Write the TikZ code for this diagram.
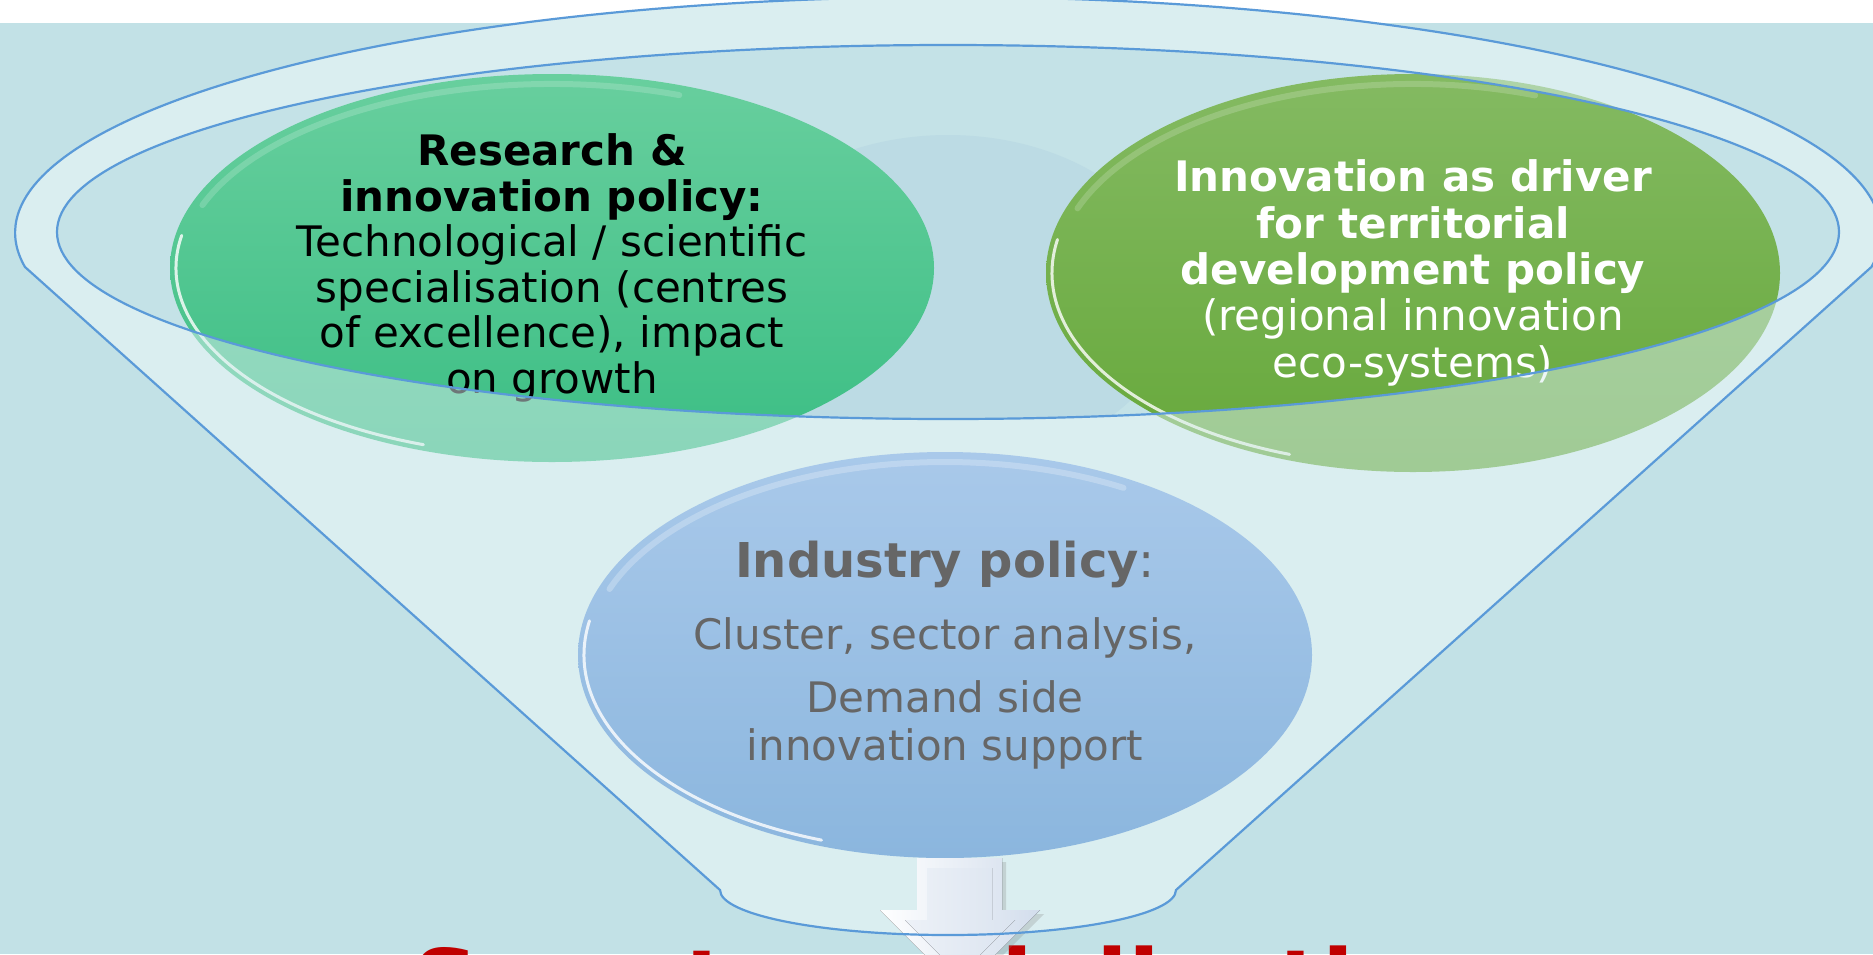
\documentclass[tikz,border=0pt]{standalone}
\usepackage{fontspec}
\setmainfont{DejaVu Sans}
\usetikzlibrary{shapes.geometric,calc}

\definecolor{bgblue}{HTML}{C2E1E6}
\definecolor{funnelfill}{HTML}{DAEEF0}
\definecolor{mouthfill}{HTML}{C4E2E7}
\definecolor{throatfill}{HTML}{BCDBE4}
\definecolor{rimline}{HTML}{5A9AD8}
\definecolor{greentop}{HTML}{68CF9E}
\definecolor{greenbot}{HTML}{3BBE84}
\definecolor{olivetop}{HTML}{84BA62}
\definecolor{olivebot}{HTML}{66A83A}
\definecolor{bluetop}{HTML}{A9C9EA}
\definecolor{bluebot}{HTML}{8BB6DE}
\definecolor{textgray}{HTML}{666666}
\definecolor{titlered}{HTML}{C00000}
\definecolor{arrowgray}{HTML}{D2DDEC}

\begin{document}
\begin{tikzpicture}[x=1pt, y=-1pt,
    bubble/.style={ellipse, inner sep=0pt, align=center,
      font=\fontsize{42}{45.6}\selectfont},
    rim/.style={rimline, line width=2.2pt},
    gloss/.style={white, line width=3pt, opacity=0.8, line cap=round},
    headline/.style={inner sep=0pt, text=titlered,
      font=\bfseries\fontsize{93}{100}\selectfont}]
  \useasboundingbox (0,0) rectangle (1873,954);
  \clip (0,0) rectangle (1873,954);
  % Drawing background and funnel
  \fill[bgblue] (0,23) rectangle (1873,954);
  \fill[funnelfill] (25,267) arc[start angle=171.7, end angle=368.3, x radius=933, y radius=236]
    -- (1176,890) arc[start angle=0, end angle=180, x radius=228, y radius=45] -- cycle;
  \fill[mouthfill] (948,232) ellipse [x radius=891, y radius=187];
  \begin{scope}
    \clip (948,232) ellipse [x radius=891, y radius=187];
    \fill[throatfill] (948,300) ellipse [x radius=230, y radius=165];
  \end{scope}
  % Upper bubbles
  \node[bubble, top color=greentop, bottom color=greenbot,
    minimum width=764, minimum height=388] (research) at (552,268)
    {\textbf{Research \&}\\ \textbf{innovation policy:}\\ Technological / scientific\\
     specialisation (centres\\ of excellence), impact\\ on growth};
  \node[bubble, top color=olivetop, bottom color=olivebot, text=white,
    minimum width=734, minimum height=398,
    font=\fontsize{42}{46.3}\selectfont] (territorial) at (1413,273)
    {\textbf{Innovation as driver}\\ \textbf{for territorial}\\ \textbf{development policy}\\
     (regional innovation\\ eco-systems)};
  \draw[gloss] (research.center) ++(110:376 and 188) arc[start angle=110, end angle=190, x radius=376, y radius=188];
  \draw[gloss, opacity=0.18, line width=6pt] (research.center) ++(200:372 and 184) arc[start angle=200, end angle=290, x radius=372, y radius=184];
  \draw[gloss] (territorial.center) ++(110:361 and 193) arc[start angle=110, end angle=190, x radius=361, y radius=193];
  \draw[gloss, opacity=0.18, line width=6pt] (territorial.center) ++(200:357 and 189) arc[start angle=200, end angle=290, x radius=357, y radius=189];
  % Front wall of the funnel
  \fill[funnelfill, opacity=0.5, even odd rule]
    (25,267) arc[start angle=171.7, end angle=368.3, x radius=933, y radius=236]
    -- (1176,890) arc[start angle=0, end angle=180, x radius=228, y radius=45] -- cycle
    (948,232) ellipse [x radius=891, y radius=187];
  % Lower bubble
  \node[bubble, top color=bluetop, bottom color=bluebot, text=textgray,
    minimum width=734, minimum height=406] (industry) at (945,655)
    {{\fontsize{48}{52}\selectfont\textbf{Industry policy}:}\\[26pt]
     Cluster, sector analysis,\\[18pt] Demand side\\[2pt] innovation support};
  \draw[gloss] (industry.center) ++(110:361 and 197) arc[start angle=110, end angle=190, x radius=361, y radius=197];
  \draw[gloss, opacity=0.25, line width=6pt] (industry.center) ++(200:357 and 193) arc[start angle=200, end angle=300, x radius=357, y radius=193];
  % Heading below the funnel
  \node[headline, anchor=base west] (title) at (412,1016) {Smart specialisation};
  % Arrow out of the funnel
  \begin{scope}[shift={(industry.south)}]
    \fill[gray, opacity=0.25] (-24,4) -- (61,4) -- (61,56) -- (99,56) -- (19,136) -- (-61,56) -- (-24,56) -- cycle;
    \fill[left color=white, right color=arrowgray] (-28,0) -- (57,0) -- (57,52) -- (95,52) -- (15,132)
      -- (-65,52) -- (-28,52) -- cycle;
    \fill[left color=white!60!arrowgray, right color=arrowgray!80!white]
      (-18,10) -- (47,10) -- (47,62) -- (70,62) -- (15,117) -- (-40,62) -- (-18,62) -- cycle;
  \end{scope}
  % Rim lines of the funnel
  \draw[rim] (25,267) arc[start angle=171.7, end angle=368.3, x radius=933, y radius=236]
    -- (1176,890) arc[start angle=0, end angle=180, x radius=228, y radius=45] -- cycle;
  \draw[rim] (948,232) ellipse [x radius=891, y radius=187];
\end{tikzpicture}
\end{document}
